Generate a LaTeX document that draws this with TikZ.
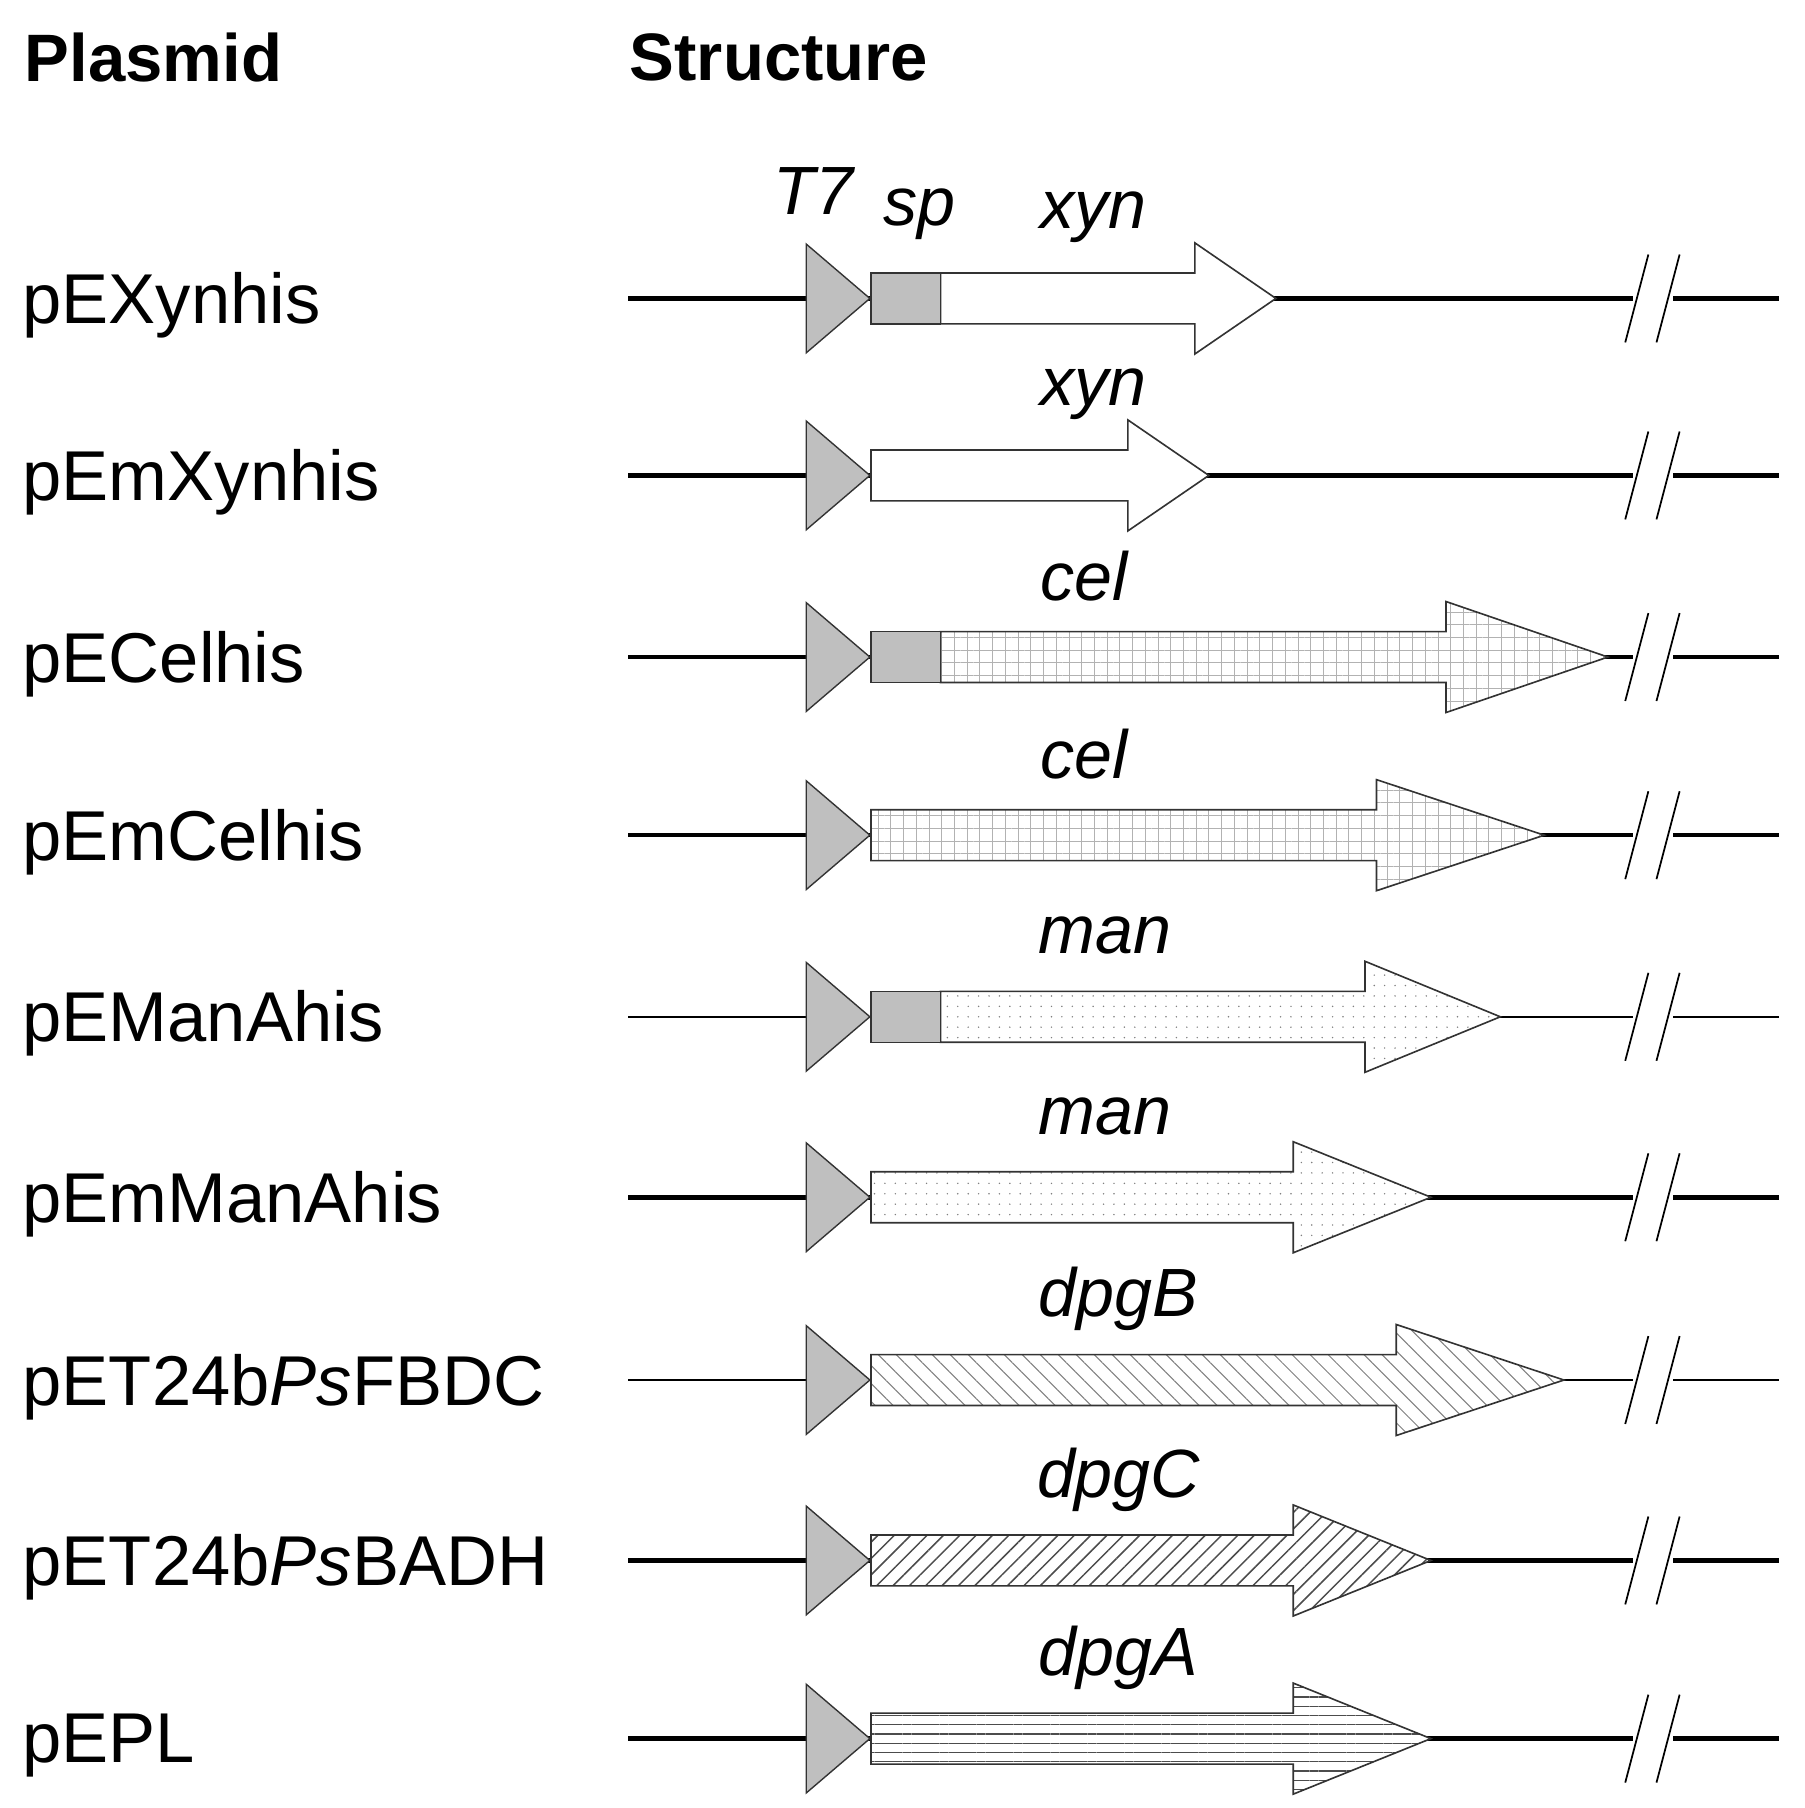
\documentclass[tikz,border=0pt]{standalone}
\usepackage{fontspec}
\setmainfont{Liberation Sans}
\usetikzlibrary{patterns.meta}
\begin{document}
\begin{tikzpicture}[x=1pt,y=-1pt,
  lab/.style={font=\fontsize{61}{64}\selectfont,anchor=west},
  gene/.style={font=\fontsize{59}{62}\selectfont\itshape},
  hdr/.style={font=\fontsize{58}{62}\selectfont\bfseries,anchor=west},
  bb/.style={line width=4pt},
  tb/.style={line width=2pt},
  prom/.style={fill=black!25,draw=black!80,line width=1.2pt},
  spb/.style={fill=black!25,draw=black!80,line width=1.2pt},
  arr/.style={draw=black!80,line width=1.4pt},
  none/.style={},
  grid/.style={pattern={Hatch[distance=11pt,angle=0,line width=0.6pt]},pattern color=black!30},
  dots/.style={pattern={Dots[distance=9pt,radius=0.7pt]},pattern color=black!50},
  dl/.style={pattern={Lines[distance=11pt,angle=-45,line width=0.9pt]},pattern color=black!50},
  dr/.style={pattern={Lines[distance=10pt,angle=45,line width=1.3pt]},pattern color=black!70},
  hl/.style={pattern={Lines[distance=8pt,angle=0,line width=1pt]},pattern color=black!70},
]
\useasboundingbox (0,0) rectangle (1560,1563);
\node[hdr] (h1) at (18,50) {Plasmid};
\node[hdr] (h2) at (541,50) {Structure};
\node[gene] (t7) at (703,165) {T7};
\node[gene] (sp) at (795,185) {sp};
\foreach \y/\nm/\sp/\hs/\tp/\st/\g/\gx/\lw [count=\i] in {
 258/pEXynhis/1/1033/1103/none/xyn/945/bb,
 411/pEmXynhis/0/975/1045/none/xyn/945/bb,
 568/pECelhis/1/1250/1390/grid/cel/937/bb,
 722/pEmCelhis/0/1190/1335/grid/cel/937/bb,
 879/pEManAhis/1/1180/1297/dots/man/955/tb,
 1035/pEmManAhis/0/1118/1237/dots/man/955/bb,
 1193/pET24b\textit{Ps}FBDC/0/1207/1352/dl/dpgB/967/tb,
 1349/pET24b\textit{Ps}BADH/0/1118/1237/dr/dpgC/967/bb,
 1503/pEPL/0/1118/1237/hl/dpgA/967/bb}{
  \node[lab] (n\i) at (16,\y+6) {\nm};
  \coordinate (l\i) at (543,\y);
  \coordinate (r\i) at (1538,\y);
  \draw[\lw] (l\i) -- (r\i);
  \fill[white] (1412,\y-6) rectangle (1446,\y+6);
  \draw[line width=1.5pt] (1405,\y+38) -- (1425,\y-38) (1432,\y+38) -- (1452,\y-38);
  \ifnum\sp=1
    \def\s{813}
  \else
    \def\s{753}
  \fi
  \fill[white] (\s,\y-22) -- (\hs,\y-22) -- (\hs,\y-48) -- (\tp,\y) -- (\hs,\y+48) -- (\hs,\y+22) -- (\s,\y+22) -- cycle;
  \path[\st] (\s,\y-22) -- (\hs,\y-22) -- (\hs,\y-48) -- (\tp,\y) -- (\hs,\y+48) -- (\hs,\y+22) -- (\s,\y+22) -- cycle;
  \draw[arr] (\s,\y-22) -- (\hs,\y-22) -- (\hs,\y-48) -- (\tp,\y) -- (\hs,\y+48) -- (\hs,\y+22) -- (\s,\y+22) -- cycle;
  \ifnum\sp=1 \draw[spb] (753,\y-22) rectangle (813,\y+22); \fi
  \draw[prom] (697,\y-47) -- (752,\y) -- (697,\y+47) -- cycle;
  \node[gene] (g\i) at (\gx,\y-70) {\g};
}
\end{tikzpicture}
\end{document}
